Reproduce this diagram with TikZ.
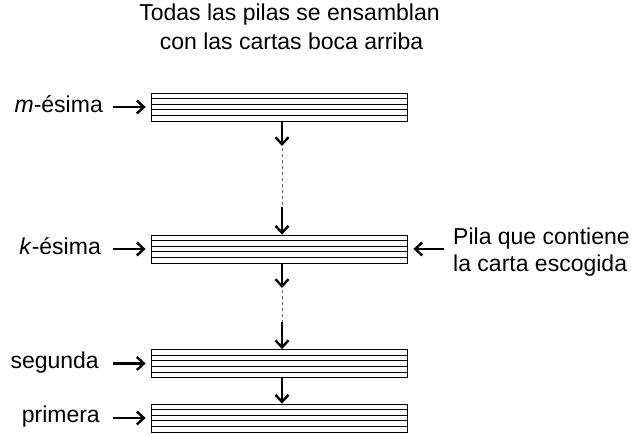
\documentclass[tikz,border=0pt]{standalone}
\usepackage{fontspec}
\setmainfont{Liberation Sans}
\usetikzlibrary{arrows.meta}
\begin{document}
\begin{tikzpicture}[x=1pt,y=-1pt,
    pila/.style = {draw, line width=0.8pt, minimum width=256pt, minimum height=28pt, inner sep=0pt,
      path picture={\foreach \f in {0.2,0.4,0.6,0.8}
        \draw[line width=0.8pt] ([yshift=-\f*28pt]path picture bounding box.north west) -- ([yshift=-\f*28pt]path picture bounding box.north east);}},
    flecha/.style = {line width=2.4pt, -{Straight Barb[length=7pt,width=13pt,line width=2.4pt]}},
    etiqueta/.style = {font=\fontsize{23}{26}\selectfont, inner sep=0pt}]
    \useasboundingbox (0,0) rectangle (631,435);
    % titulo
    \node[etiqueta, anchor=base] (titulo1) at (289.5,21) {Todas las pilas se ensamblan};
    \node[etiqueta, anchor=base] (titulo2) at (291.5,50) {con las cartas boca arriba};
    % pilas
    \node[pila] (m) at (279,107) {};
    \node[pila] (k) at (279,249) {};
    \node[pila] (s) at (279,363.5) {};
    \node[pila] (p) at (279,418) {};
    % nombres
    \node[etiqueta, anchor=base east] (mt) at (103,113) {\textit{m}-ésima};
    \node[etiqueta, anchor=base east] (kt) at (101,255) {\textit{k}-ésima};
    \node[etiqueta, anchor=base east] (st) at (99,368) {segunda};
    \node[etiqueta, anchor=base east] (pt) at (100,422) {primera};
    \node[etiqueta, anchor=base west] (nota1) at (453,245) {Pila que contiene};
    \node[etiqueta, anchor=base west] (nota2) at (453,271.5) {la carta escogida};
    % flechas laterales
    \foreach \n in {m,k,s,p}
      \draw[flecha] ([xshift=-38pt]\n.west) -- ([xshift=-5pt]\n.west);
    \draw[flecha] ([xshift=37pt]k.east) -- ([xshift=6pt]k.east);
    % pasos intermedios
    \coordinate (m1) at (282,146);
    \coordinate (m2) at (282,207);
    \coordinate (k1) at (282,288);
    \coordinate (k2) at (282,322);
    \draw[flecha] (m.south -| m1) -- (m1);
    \draw[dashed, line width=0.7pt, black!60] ([yshift=-2pt]m1) -- (m2);
    \draw[flecha] (m2) -- (k.north -| m2);
    \draw[flecha] (k.south -| k1) -- (k1);
    \draw[dashed, line width=0.7pt, black!60] ([yshift=-2pt]k1) -- (k2);
    \draw[flecha] (k2) -- (s.north -| k2);
    \draw[flecha] (s.south -| k2) -- (p.north -| k2);
\end{tikzpicture}
\end{document}
